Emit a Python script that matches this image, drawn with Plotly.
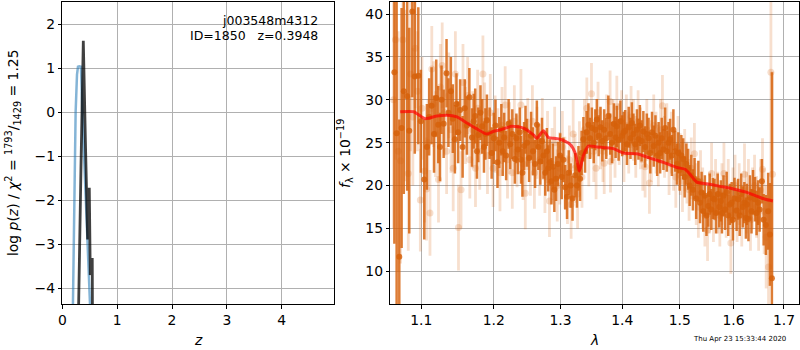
import plotly.graph_objects as go
import math

# ---------------- left panel: redshift probability ----------------
z_prior = [0.17, 0.195, 0.219, 0.243, 0.268, 0.286, 0.31, 0.341, 0.365, 0.40, 0.426, 0.45, 0.474, 0.505, 0.53]
logp_prior = [-6.5, -4.36, -2.0, 0.0, 0.85, 1.03, 1.04, 1.03, 0.0, -1.2, -2.0, -2.6, -3.3, -4.36, -6.0]

z_fit = [0.29, 0.298, 0.34, 0.383, 0.42, 0.462, 0.492, 0.51, 0.546, 0.556]
logp_fit = [-7.0, -4.36, -1.3, 1.62, -0.6, -2.89, -1.72, -3.7, -3.31, -7.0]

# ---------------- right panel: spectrum ----------------
wave_dark = [1.0651, 1.0680, 1.0714, 1.0744, 1.0772, 1.0816, 1.0843, 1.0883, 1.0915, 1.0961,
             1.0995, 1.1040, 1.1075, 1.1105, 1.1137, 1.1170, 1.1200, 1.1227, 1.1250, 1.1271,
             1.1300, 1.1339, 1.1365, 1.1398, 1.1425, 1.1453, 1.1475, 1.1498, 1.1525, 1.1560,
             1.1590, 1.1620, 1.1654, 1.1691, 1.1715, 1.1736, 1.1760, 1.1780, 1.1810, 1.1834,
             1.1860, 1.1880, 1.1902, 1.1941, 1.1970, 1.2000, 1.2025, 1.2054, 1.2080, 1.2110,
             1.2130, 1.2151, 1.2180, 1.2216, 1.2240, 1.2270, 1.2308, 1.2330, 1.2352, 1.2380,
             1.2400, 1.2420, 1.2445, 1.2466, 1.2490, 1.2520, 1.2550, 1.2580, 1.2610, 1.2637,
             1.2660, 1.2690, 1.2715, 1.2738, 1.2765, 1.2790, 1.2810, 1.2834, 1.2860, 1.2882,
             1.2905, 1.2932, 1.2960, 1.2995, 1.3020, 1.3046, 1.3075, 1.3103, 1.3130, 1.3160,
             1.3190, 1.3231, 1.3260, 1.3284, 1.3310, 1.3335, 1.3363, 1.3390, 1.3415, 1.3444,
             1.3470, 1.3500, 1.3530, 1.3555, 1.3580, 1.3610, 1.3640, 1.3670, 1.3700, 1.3735,
             1.3769, 1.3800, 1.3830, 1.3860, 1.3890, 1.3910, 1.3940, 1.3970, 1.4000, 1.4025,
             1.4050, 1.4080, 1.4110, 1.4140, 1.4163, 1.4190, 1.4220, 1.4250, 1.4276, 1.4300,
             1.4330, 1.4360, 1.4390, 1.4420, 1.4450, 1.4480, 1.4510, 1.4540, 1.4570, 1.4600,
             1.4625, 1.4652, 1.4680, 1.4710, 1.4740, 1.4770, 1.4800, 1.4828, 1.4860, 1.4887,
             1.4920, 1.4950, 1.4975, 1.5000, 1.5030, 1.5063, 1.5090, 1.5120, 1.5153, 1.5180,
             1.5210, 1.5240, 1.5270, 1.5300, 1.5340, 1.5370, 1.5400, 1.5430, 1.5460, 1.5490,
             1.5524, 1.5550, 1.5580, 1.5610, 1.5640, 1.5670, 1.5700, 1.5730, 1.5760, 1.5780,
             1.5810, 1.5840, 1.5870, 1.5900, 1.5930, 1.5965, 1.5990, 1.6020, 1.6060, 1.6090,
             1.6120, 1.6150, 1.6180, 1.6210, 1.6240, 1.6260, 1.6290, 1.6320, 1.6350, 1.6380,
             1.6420, 1.6450, 1.6480, 1.6510, 1.6555, 1.6590, 1.6635, 1.6680, 1.6715, 1.6755]
flux_dark = [33.2, 26.1, 11.7, 26.7, 31.0, 30.4, 26.4, 40.3, 32.7, 32.8,
             27.5, 20.7, 24.5, 28.0, 29.3, 26.0, 30.2, 27.1, 24.5, 30.0,
             27.2, 33.1, 28.5, 31.0, 27.8, 25.4, 29.5, 26.2, 28.8, 24.5,
             29.0, 27.0, 30.3, 25.6, 27.5, 28.1, 24.0, 25.9, 28.5, 26.9,
             24.5, 26.0, 27.6, 26.1, 23.8, 25.5, 27.0, 22.7, 25.0, 26.5,
             24.0, 25.6, 23.5, 27.2, 24.8, 26.0, 23.1, 25.5, 24.2, 26.2,
             23.0, 21.5, 24.6, 26.5, 25.0, 23.2, 25.8, 24.0, 22.5, 27.1,
             24.5, 22.8, 25.2, 23.5, 21.5, 24.0, 22.0, 22.7, 20.5, 22.2,
             19.5, 20.8, 22.5, 23.5, 21.0, 23.0, 19.8, 18.7, 21.5, 20.0,
             18.5, 21.2, 20.0, 22.0, 20.8, 23.8, 25.4, 24.0, 26.2, 27.1,
             25.5, 26.7, 25.0, 26.5, 27.7, 25.8, 26.8, 25.2, 26.5, 25.5,
             28.1, 26.0, 25.0, 27.2, 25.6, 26.9, 25.3, 27.5, 25.8, 26.2,
             26.4, 24.8, 26.8, 25.5, 27.3, 26.0, 24.8, 26.5, 25.4, 27.0,
             25.2, 26.3, 24.5, 26.0, 25.5, 23.8, 26.2, 24.6, 25.8, 23.5,
             25.0, 23.8, 25.5, 24.2, 26.7, 24.0, 25.0, 25.4, 23.5, 26.5,
             24.0, 22.5, 23.8, 21.8, 23.5, 23.1, 21.0, 22.5, 21.9, 20.0,
             21.2, 19.5, 20.8, 18.5, 20.5, 18.0, 19.2, 17.0, 18.8, 16.5,
             17.6, 19.0, 17.2, 18.5, 18.4, 16.8, 19.0, 17.5, 18.2, 16.8,
             18.8, 17.2, 19.2, 16.5, 17.8, 18.0, 16.0, 18.5, 17.1, 18.4,
             16.5, 19.0, 17.5, 18.0, 16.2, 17.8, 16.1, 18.6, 17.0, 19.2,
             18.4, 16.8, 18.0, 17.2, 20.5, 16.0, 15.4, 17.0, 14.3, 9.2]
err_dark = [20, 20, 16, 14, 12, 11, 12, 10, 9, 8,
            6, 7, 5, 4.5, 4.5, 4.5, 4.5, 4.5, 4, 4,
            4, 4, 4, 4, 4, 4, 3.6, 3.6, 3.6, 3.6,
            3.4, 3.4, 3.4, 3.4, 3.2, 3.2, 3.2, 3.2, 3.2, 3.2,
            3.0, 3.0, 3.0, 3.0, 3.0, 3.0, 3.0, 3.0, 3.0, 3.0,
            2.9, 2.9, 2.9, 2.9, 2.9, 2.9, 2.9, 2.9, 2.9, 2.9,
            2.8, 2.8, 2.8, 2.8, 2.8, 2.8, 2.8, 2.8, 2.8, 2.8,
            2.7, 2.7, 2.7, 2.7, 2.7, 2.7, 2.7, 2.7, 2.7, 2.7,
            2.6, 2.6, 2.6, 2.6, 2.6, 2.6, 2.6, 2.6, 2.6, 2.6,
            2.6, 2.6, 2.6, 2.6, 2.6, 2.6, 2.6, 2.5, 2.5, 2.5,
            2.4, 2.4, 2.4, 2.4, 2.4, 2.4, 2.4, 2.4, 2.4, 2.4,
            2.4, 2.4, 2.4, 2.4, 2.4, 2.4, 2.4, 2.4, 2.4, 2.4,
            2.4, 2.4, 2.4, 2.4, 2.4, 2.4, 2.4, 2.4, 2.4, 2.4,
            2.4, 2.4, 2.4, 2.4, 2.4, 2.4, 2.4, 2.4, 2.4, 2.4,
            2.4, 2.4, 2.4, 2.4, 2.4, 2.4, 2.4, 2.4, 2.4, 2.4,
            2.4, 2.4, 2.4, 2.4, 2.4, 2.4, 2.4, 2.4, 2.4, 2.4,
            2.4, 2.4, 2.4, 2.4, 2.4, 2.4, 2.4, 2.4, 2.4, 2.4,
            2.4, 2.4, 2.4, 2.4, 2.4, 2.4, 2.4, 2.4, 2.4, 2.4,
            2.4, 2.4, 2.4, 2.4, 2.4, 2.4, 2.4, 2.4, 2.4, 2.4,
            2.4, 2.4, 2.4, 2.4, 2.4, 2.4, 2.6, 2.6, 2.6, 2.6,
            2.6, 2.6, 2.6, 2.6, 2.6, 3.0, 3.5, 4.5, 6.0, 24.0]

wave_light = [1.0640, 1.0665, 1.0700, 1.0730, 1.0760, 1.0790, 1.0830, 1.0860, 1.0890, 1.0920,
              1.0950, 1.0988, 1.1010, 1.1045, 1.1070, 1.1090, 1.1116, 1.1140, 1.1165, 1.1190,
              1.1230, 1.1255, 1.1280, 1.1310, 1.1340, 1.1370, 1.1400, 1.1430, 1.1460, 1.1503,
              1.1538, 1.1565, 1.1600, 1.1630, 1.1660, 1.1700, 1.1740, 1.1770, 1.1800, 1.1845,
              1.1870, 1.1910, 1.1950, 1.1990, 1.2020, 1.2060, 1.2090, 1.2120, 1.2166, 1.2200,
              1.2230, 1.2270, 1.2300, 1.2340, 1.2398, 1.2430, 1.2463, 1.2500, 1.2540, 1.2570,
              1.2600, 1.2640, 1.2680, 1.2720, 1.2760, 1.2800, 1.2830, 1.2870, 1.2910, 1.2950,
              1.2990, 1.3030, 1.3070, 1.3110, 1.3140, 1.3168, 1.3200, 1.3230, 1.3270, 1.3300,
              1.3340, 1.3380, 1.3418, 1.3450, 1.3493, 1.3530, 1.3568, 1.3600, 1.3640, 1.3680,
              1.3701, 1.3740, 1.3798, 1.3805, 1.3850, 1.3880, 1.3910, 1.3950, 1.3990, 1.4030,
              1.4070, 1.4110, 1.4150, 1.4190, 1.4230, 1.4270, 1.4310, 1.4350, 1.4390, 1.4420,
              1.4465, 1.4500, 1.4540, 1.4580, 1.4620, 1.4660, 1.4693, 1.4730, 1.4770, 1.4810,
              1.4850, 1.4890, 1.4930, 1.4970, 1.5010, 1.5050, 1.5090, 1.5130, 1.5170, 1.5210,
              1.5267, 1.5300, 1.5340, 1.5380, 1.5420, 1.5460, 1.5510, 1.5545, 1.5585, 1.5620,
              1.5660, 1.5700, 1.5740, 1.5780, 1.5818, 1.5860, 1.5900, 1.5950, 1.5990, 1.6030,
              1.6070, 1.6110, 1.6160, 1.6213, 1.6250, 1.6290, 1.6330, 1.6370, 1.6410, 1.6450,
              1.6490, 1.6530, 1.6567, 1.6600, 1.6640, 1.6688, 1.6735, 1.6767]
flux_light = [30.0, 37.0, 24.0, 22.9, 37.0, 30.5, 21.4, 33.0, 28.0, 36.0,
              31.0, 18.3, 29.0, 21.7, 19.6, 25.0, 16.8, 33.6, 29.5, 26.0,
              20.7, 31.5, 34.0, 28.5, 24.0, 30.5, 26.5, 22.0, 33.0, 15.1,
              19.5, 32.0, 27.0, 30.5, 23.0, 26.5, 22.0, 29.0, 24.0, 33.0,
              27.5, 23.5, 28.5, 22.0, 26.0, 24.5, 21.5, 27.0, 29.4, 23.0,
              25.5, 21.5, 27.5, 24.0, 29.4, 22.5, 19.1, 26.0, 23.0, 27.5,
              21.5, 25.0, 23.0, 26.0, 21.0, 24.5, 18.2, 22.5, 25.0, 20.0,
              22.0, 24.5, 21.5, 19.5, 23.0, 17.8, 26.0, 22.0, 19.0, 23.5,
              21.0, 26.5, 29.0, 23.5, 30.7, 24.0, 22.0, 28.5, 25.5, 24.0,
              22.6, 27.0, 29.8, 22.8, 26.5, 24.5, 29.2, 26.0, 27.5, 24.0,
              27.0, 25.0, 28.0, 26.5, 24.5, 27.5, 25.5, 23.0, 22.2, 26.5,
              20.3, 24.0, 27.0, 25.0, 23.5, 26.5, 29.3, 24.5, 26.0, 22.5,
              25.0, 23.0, 21.0, 24.5, 22.5, 20.5, 23.0, 21.5, 19.5, 22.0,
              23.7, 19.0, 17.5, 20.5, 18.5, 16.5, 14.8, 18.0, 21.4, 17.0,
              19.5, 18.0, 16.5, 19.0, 21.4, 17.5, 19.5, 13.3, 18.5, 20.0,
              17.0, 19.0, 16.5, 21.3, 18.0, 19.5, 16.0, 18.5, 20.0, 17.5,
              16.0, 19.5, 21.9, 17.0, 14.0, 10.5, 33.2, 21.3]
err_light = [15, 14, 14, 12, 10, 10, 9, 9, 8, 7,
             7, 6, 6, 6, 6, 5, 5, 5, 5, 5,
             5, 5, 5, 5, 5, 5, 5, 5, 5, 5,
             4.5, 4.5, 4.5, 4.5, 4.5, 4.5, 4.5, 4.5, 4.5, 4.5,
             4.5, 4.5, 4.5, 4.5, 4.5, 4.5, 4.5, 4.5, 4.5, 4.5,
             4.2, 4.2, 4.2, 4.2, 4.2, 4.2, 4.2, 4.2, 4.2, 4.2,
             4.2, 4.2, 4.2, 4.2, 4.2, 4.2, 4.2, 4.2, 4.2, 4.2,
             4.2, 4.2, 4.2, 4, 4, 4, 4, 4, 4, 4,
             3.6, 3.6, 3.6, 3.6, 3.6, 3.6, 3.6, 3.6, 3.6, 3.6,
             3.6, 3.6, 3.6, 3.6, 3.6, 3.6, 3.6, 3.6, 3.6, 3.6,
             3.6, 3.6, 3.6, 3.6, 3.6, 3.6, 3.6, 3.6, 3.6, 3.6,
             3.6, 3.6, 3.6, 3.6, 3.6, 3.6, 3.6, 3.6, 3.6, 3.6,
             3.6, 3.6, 3.6, 3.6, 3.6, 3.6, 3.6, 3.6, 3.6, 3.6,
             3.6, 3.6, 3.6, 3.6, 3.6, 3.6, 3.6, 3.6, 3.6, 3.6,
             3.6, 3.6, 3.6, 3.6, 3.6, 3.6, 3.6, 3.6, 3.6, 3.6,
             3.6, 3.6, 3.6, 3.6, 3.6, 3.6, 3.6, 3.6, 3.6, 3.6,
             3.6, 3.6, 3.6, 5, 6, 8, 23, 12]

wave_model = [1.0726, 1.0899, 1.1050, 1.1209, 1.1344, 1.1481, 1.1620, 1.1760, 1.1902, 1.1992,
              1.2100, 1.2264, 1.2436, 1.2586, 1.2637, 1.2738, 1.2814, 1.2900, 1.2995, 1.3152,
              1.3231, 1.3284, 1.3300, 1.3363, 1.3444, 1.3580, 1.3853, 1.4021, 1.4248, 1.4477,
              1.4710, 1.4948, 1.5098, 1.5189, 1.5311, 1.5496, 1.5745, 1.5997, 1.6260, 1.6521,
              1.6621, 1.6775]
flux_model = [28.6, 28.6, 27.8, 28.1, 28.2, 28.0, 27.3, 26.6, 26.0, 26.3,
              26.5, 26.9, 26.7, 25.9, 25.5, 26.4, 25.6, 25.5, 25.4, 24.8,
              23.8, 22.1, 21.7, 23.5, 24.6, 24.5, 24.3, 23.8, 23.7, 23.2,
              22.7, 22.1, 21.9, 21.3, 20.4, 20.2, 19.9, 19.6, 19.2, 18.6,
              18.4, 18.2]

z_ticks = [0, 1, 2, 3, 4]
logp_ticks = [-4, -3, -2, -1, 0, 1, 2]
wave_ticks = [1.1, 1.2, 1.3, 1.4, 1.5, 1.6, 1.7]
wave_ticktext = ["1.1", "1.2", "1.3", "1.4", "1.5", "1.6", "1.7"]
flux_ticks = [10, 15, 20, 25, 30, 35, 40]

W, H = 800, 350
FONT = "DejaVu Sans"
DARK = "rgba(214,96,10,0.82)"
LIGHT = "rgba(214,96,10,0.2)"

fig = go.Figure()

fig.add_trace(go.Scatter(x=z_prior, y=logp_prior, mode="lines", xaxis="x", yaxis="y",
                         line=dict(color="rgba(31,119,180,0.55)", width=2.5), showlegend=False))
fig.add_trace(go.Scatter(x=z_fit, y=logp_fit, mode="lines", xaxis="x", yaxis="y",
                         line=dict(color="rgba(0,0,0,0.75)", width=2.8), showlegend=False))

fig.add_trace(go.Scatter(x=wave_light, y=flux_light, mode="markers", xaxis="x2", yaxis="y2",
                         marker=dict(color=LIGHT, size=7, line=dict(width=0)),
                         error_y=dict(type="data", array=err_light, visible=True, color=LIGHT,
                                      thickness=2.8, width=0),
                         showlegend=False))
fig.add_trace(go.Scatter(x=wave_dark, y=flux_dark, mode="markers", xaxis="x2", yaxis="y2",
                         marker=dict(color=DARK, size=6, line=dict(width=0)),
                         error_y=dict(type="data", array=err_dark, visible=True, color=DARK,
                                      thickness=2.5, width=0),
                         showlegend=False))
fig.add_trace(go.Scatter(x=wave_model, y=flux_model, mode="lines", xaxis="x2", yaxis="y2",
                         line=dict(color="rgba(255,0,0,0.7)", width=3, shape="spline", smoothing=0.6),
                         showlegend=False))

ydom = [(H - 304) / H, (H - 1.7) / H]
axis_common = dict(showline=True, linecolor="black", linewidth=1, mirror=True,
                   ticks="outside", ticklen=3.5, tickwidth=1, tickcolor="black",
                   showgrid=True, gridcolor="#b0b0b0", gridwidth=1, zeroline=False,
                   automargin=False,
                   tickfont=dict(family=FONT, size=13.9, color="black"))

fig.update_layout(
    width=W, height=H, margin=dict(l=0, r=0, t=0, b=0, pad=0, autoexpand=False),
    paper_bgcolor="white", plot_bgcolor="white",
    xaxis=dict(domain=[62.3 / W, 334.3 / W], range=[0, 4.959], tickvals=z_ticks,
               anchor="y", **axis_common),
    yaxis=dict(domain=ydom, range=[-4.357, 2.507], tickvals=logp_ticks, anchor="x",
               **axis_common),
    xaxis2=dict(domain=[390.3 / W, 799 / W], type="log",
                range=[math.log10(1.0599), math.log10(1.7309)],
                tickvals=wave_ticks, ticktext=wave_ticktext, anchor="y2",
                layer="above traces", **axis_common),
    yaxis2=dict(domain=ydom, range=[6.183, 41.436], tickvals=flux_ticks, anchor="x2",
                layer="above traces", **axis_common),
)

def ann(text, px, py, size, xanchor="center", yanchor="middle", angle=0):
    fig.add_annotation(text=text, x=px / W, y=1 - py / H, xref="paper", yref="paper",
                       showarrow=False, xanchor=xanchor, yanchor=yanchor, textangle=angle,
                       font=dict(family=FONT, size=size, color="black"))

ann("j003548m4312", 319.5, 20.5, 12.5, xanchor="right")
ann("ID=1850   z=0.3948", 319.5, 35.5, 12.5, xanchor="right")
ann("<i>z</i>", 198, 340, 13.9)
ann("<i>λ</i>", 594, 340, 13.9)
ann("log <i>p</i>(<i>z</i>) / <i>χ</i><sup>2</sup> = <sup>1793</sup>/<sub>1429</sub> = 1.25",
    13, 153, 13.9, angle=-90)
ann("<i>f</i><sub>λ</sub> × 10<sup>−19</sup>", 345, 154, 13.9, angle=-90)
ann("Thu Apr 23 15:33:44 2020", 788, 339, 7, xanchor="right")

post = ("document.body.style.margin='0';document.body.style.overflow='hidden';"
        "var g=document.getElementsByClassName('plotly-graph-div')[0];"
        "g.style.position='absolute';g.style.left='0px';g.style.top='0px';")
fig.write_html("out.html", config={"displayModeBar": False}, post_script=post)
